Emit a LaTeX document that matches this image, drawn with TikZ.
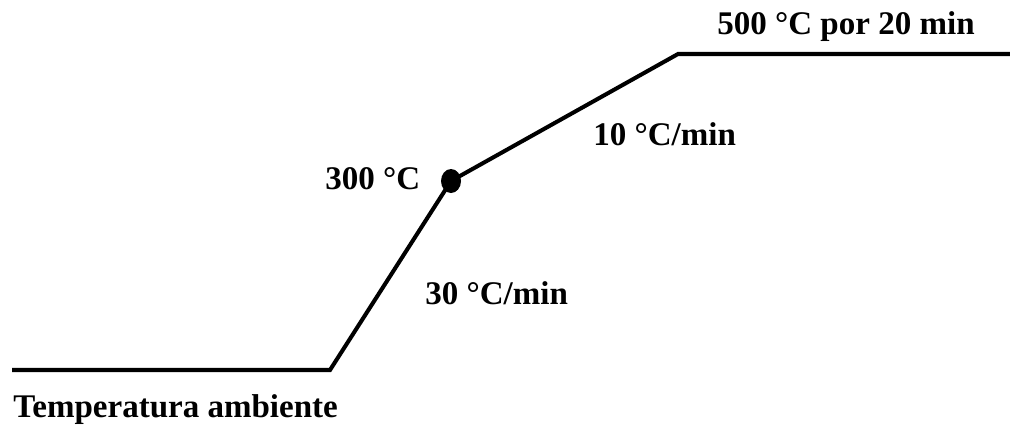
\documentclass[tikz,border=0pt]{standalone}
\usepackage{fontspec}
\setmainfont{Liberation Serif}
\usepackage{tikz}
\usetikzlibrary{positioning}

\begin{document}
\begin{tikzpicture}[x=0.02cm, y=-0.02cm]
\tikzset{
  ramp/.style={black, line width=2.3pt, line join=miter},
  lbl/.style={font=\fontsize{18.8pt}{22pt}\selectfont\bfseries, inner sep=0pt}
}
\useasboundingbox (0,0) rectangle (1010,424);

\coordinate (amb0) at (12,370);
\coordinate (amb1) at (330,370);
\coordinate (mid) at (451,181);
\coordinate (top0) at (678,54);
\coordinate (top1) at (1010,54);

\draw[ramp] (amb0)--(amb1)--(mid)--(top0)--(top1);
\fill[black] (mid) ellipse [x radius=10, y radius=12];

\node[lbl, anchor=west] (tamb) at (13,410) {Temperatura ambiente};
\node[lbl, anchor=west] (t300) at (325,179) {300 °C};
\node[lbl, anchor=west] (r30) at (425,293) {30 °C/min};
\node[lbl, anchor=west] (r10) at (593,134) {10 °C/min};
\node[lbl, anchor=west] (t500) at (717,27) {500 °C por 20 min};
\end{tikzpicture}
\end{document}
